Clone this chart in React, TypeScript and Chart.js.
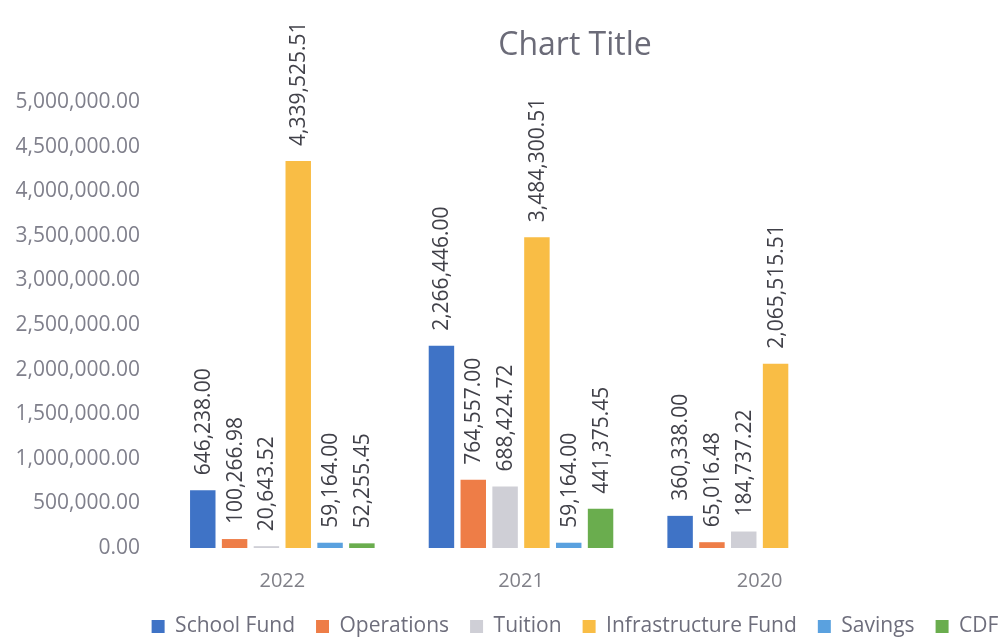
import React, { useEffect, useRef } from "react";
import { Chart, registerables } from "chart.js";

Chart.register(...registerables);

const categories = ["2022", "2021", "2020"];
const seriesNames = ["School Fund", "Operations", "Tuition", "Infrastructure Fund", "Savings", "CDF"];
const schoolFund = [646238.0, 2266446.0, 360338.0];
const operations = [100266.98, 764557.0, 65016.48];
const tuition = [20643.52, 688424.72, 184737.22];
const infrastructureFund = [4339525.51, 3484300.51, 2065515.51];
const savings = [59164.0, 59164.0, null];
const cdf = [52255.45, 441375.45, null];
const seriesColors = ["#3f73c6", "#ee7d47", "#cfcfd6", "#f9bd45", "#5aa1df", "#6aad4e"];
const yMin = 0;
const yMax = 5000000;
const yStep = 500000;

const FONT = '"Open Sans", "Noto Sans", sans-serif';
const fmt = (v: number) =>
  v.toLocaleString("en-US", { minimumFractionDigits: 2, maximumFractionDigits: 2 });

const barLabelPlugin = {
  id: "barLabels",
  afterDatasetsDraw(chart: any) {
    const ctx = chart.ctx;
    ctx.save();
    ctx.font = `21px ${FONT}`;
    ctx.fillStyle = "#414149";
    ctx.textAlign = "left";
    ctx.textBaseline = "middle";
    chart.data.datasets.forEach((ds: any, i: number) => {
      const meta = chart.getDatasetMeta(i);
      meta.data.forEach((bar: any, j: number) => {
        const v = ds.data[j];
        if (v == null) return;
        ctx.save();
        ctx.translate(bar.x + 1, bar.y - 15);
        ctx.rotate(-Math.PI / 2);
        ctx.fillText(fmt(v), 0, 0);
        ctx.restore();
      });
    });
    ctx.restore();
  },
};

export default function App() {
  const ref = useRef<HTMLCanvasElement | null>(null);
  useEffect(() => {
    if (!ref.current) return;
    const allSeries = [schoolFund, operations, tuition, infrastructureFund, savings, cdf];
    const chart = new Chart(ref.current, {
      type: "bar",
      data: {
        labels: categories,
        datasets: allSeries.map((d, i) => ({
          label: seriesNames[i],
          data: d as any,
          backgroundColor: seriesColors[i],
          borderWidth: 0,
          barPercentage: 0.8,
          categoryPercentage: 0.8,
        })),
      },
      options: {
        responsive: false,
        animation: false,
        devicePixelRatio: 1,
        layout: { padding: 0 },
        plugins: {
          title: {
            display: true,
            text: "Chart Title",
            color: "#6b6b78",
            font: { family: FONT, size: 32, weight: "normal" as any },
            padding: { top: 27, bottom: 36.6 },
          },
          legend: {
            position: "bottom",
            labels: {
              boxWidth: 13,
              boxHeight: 13,
              padding: 21,
              color: "#6e6e7c",
              font: { family: FONT, size: 21 },
            },
          },
          tooltip: { enabled: false },
        },
        scales: {
          x: {
            grid: { display: false, drawTicks: false },
            border: { display: false },
            ticks: {
              color: "#808088",
              font: { family: FONT, size: 20 },
              padding: 21,
            },
            afterFit(scale: any) {
              scale.height = 47;
            },
          },
          y: {
            min: yMin,
            max: yMax,
            grid: { display: false, drawTicks: false },
            border: { display: false },
            ticks: {
              stepSize: yStep,
              color: "#7f7f8b",
              font: { family: FONT, size: 21 },
              padding: 23,
              callback: (v: any) => fmt(Number(v)),
            },
            afterFit(scale: any) {
              scale.width = 163;
            },
          },
          yRight: {
            type: "linear",
            position: "right",
            min: yMin,
            max: yMax,
            grid: { display: false, drawTicks: false },
            border: { display: false },
            ticks: { display: false },
            afterFit(scale: any) {
              scale.width = 271;
            },
          },
        },
      },
      plugins: [barLabelPlugin],
    });
    return () => chart.destroy();
  }, []);
  return (
    <div
      style={{
        position: "fixed",
        left: 0,
        top: 0,
        width: 1007,
        height: 639,
        overflow: "hidden",
        background: "#ffffff",
      }}
    >
      <canvas ref={ref} width={1150} height={647} style={{ display: "block" }} />
    </div>
  );
}
